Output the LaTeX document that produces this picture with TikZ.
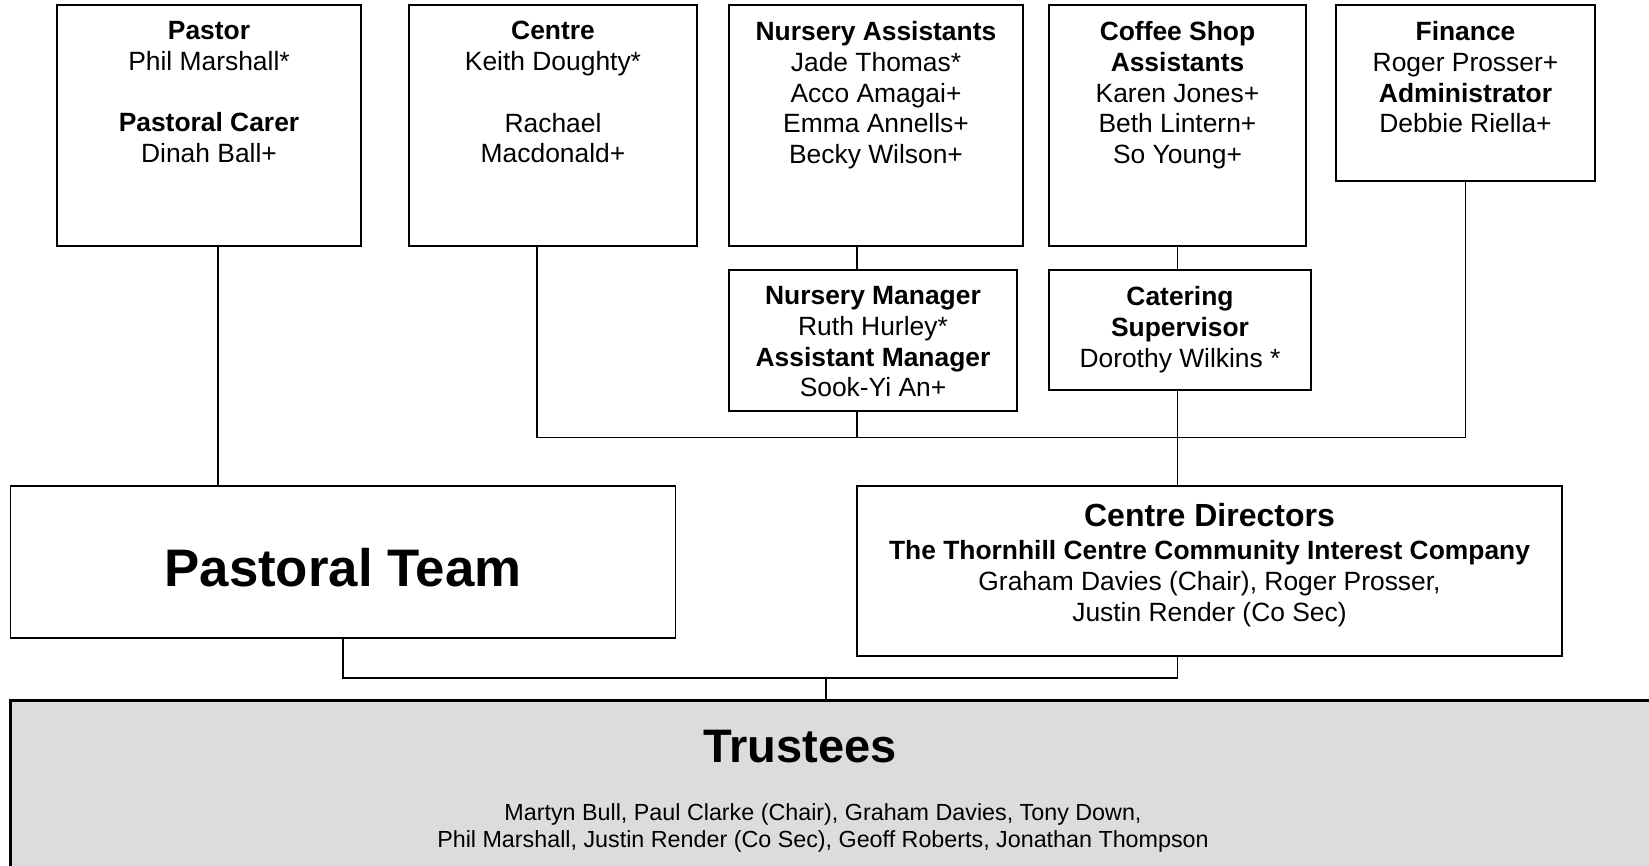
\documentclass[tikz,border=0pt]{standalone}
\usepackage{fontspec}
\setmainfont{Liberation Sans}
\definecolor{trustgray}{HTML}{DCDCDC}
\tikzset{
  unitbox/.style={draw, line width=1.8pt, inner sep=0pt},
  unittext/.style={anchor=north, align=center, inner sep=0pt,
    font=\fontsize{26.4}{30.8}\selectfont},
  link/.style={line width=1.8pt},
}
\begin{document}
\begin{tikzpicture}[x=1pt, y=-1pt]
  \path[use as bounding box, clip] (0,0) rectangle (1649,865);
  % Top row of staff boxes
  \node[unitbox, minimum width=304pt, minimum height=241pt] (pastor) at (209,125.5) {};
  \node[unitbox, minimum width=288pt, minimum height=241pt] (centre) at (553,125.5) {};
  \node[unitbox, minimum width=294pt, minimum height=241pt] (nursasst) at (876,125.5) {};
  \node[unitbox, minimum width=257pt, minimum height=241pt] (coffee) at (1177.5,125.5) {};
  \node[unitbox, minimum width=259pt, minimum height=176pt] (finance) at (1465.5,93) {};
  \node[unittext] (pastortxt) at ([yshift=-17pt]pastor.north)
    {\textbf{Pastor}\\Phil Marshall*\\[30.8pt]\textbf{Pastoral Carer}\\Dinah Ball+};
  \node[unittext] (centretxt) at ([yshift=-17pt]centre.north)
    {\textbf{Centre}\\Keith Doughty*\\[30.8pt]Rachael\\Macdonald+};
  \node[unittext] (nursassttxt) at ([yshift=-17pt]nursasst.north)
    {\textbf{Nursery Assistants}\\Jade Thomas*\\Acco Amagai+\\Emma Annells+\\Becky Wilson+};
  \node[unittext] (coffeetxt) at ([yshift=-17pt]coffee.north)
    {\textbf{Coffee Shop}\\\textbf{Assistants}\\Karen Jones+\\Beth Lintern+\\So Young+};
  \node[unittext] (financetxt) at ([yshift=-17pt]finance.north)
    {\textbf{Finance}\\Roger Prosser+\\\textbf{Administrator}\\Debbie Riella+};
  % Managers
  \node[unitbox, minimum width=288pt, minimum height=141pt] (nursmgr) at (873,340.5) {};
  \node[unitbox, minimum width=262pt, minimum height=120pt] (catering) at (1180,330) {};
  \node[unittext] (nursmgrtxt) at ([yshift=-17pt]nursmgr.north)
    {\textbf{Nursery Manager}\\Ruth Hurley*\\\textbf{Assistant Manager}\\Sook-Yi An+};
  \node[unittext] (cateringtxt) at ([yshift=-17pt]catering.north)
    {\textbf{Catering}\\\textbf{Supervisor}\\Dorothy Wilkins *};
  % Teams
  \node[unitbox, minimum width=665pt, minimum height=152pt] (pteam) at (343,562) {};
  \node[unitbox, minimum width=705pt, minimum height=170pt] (directors) at (1209.5,571) {};
  \node[inner sep=0pt, font=\fontsize{52.8}{60}\selectfont\bfseries] (pteamtxt) at (343,568) {Pastoral Team};
  \node[unittext] (directorstxt) at ([yshift=-18.5pt]directors.north)
    {{\fontsize{32}{36}\selectfont\textbf{Centre Directors}}\\[2pt]
     \textbf{The Thornhill Centre Community Interest Company}\\
     Graham Davies (Chair), Roger Prosser,\\Justin Render (Co Sec)};
  % Trustees
  \node[unitbox, line width=3pt, fill=trustgray, minimum width=1650pt, minimum height=180pt] (trustees) at (835,790) {};
  \node[inner sep=0pt, font=\fontsize{47}{54}\selectfont\bfseries] (trusteestxt) at (800,747) {Trustees};
  \node[unittext, font=\fontsize{23.3}{26.5}\selectfont] (trusteesnames) at (823,803.7)
    {Martyn Bull, Paul Clarke (Chair), Graham Davies, Tony Down,\\
     Phil Marshall, Justin Render (Co Sec), Geoff Roberts, Jonathan Thompson};
  % Connectors
  \coordinate (bus) at (0,437.5);
  \coordinate (lowbus) at (826,678);
  \draw[link] ([xshift=9pt]pastor.south) -- ([xshift=9pt]pastor.south |- pteam.north);
  \draw[link] ([xshift=-16pt]centre.south) |- (bus -| finance.south) -- (finance.south);
  \draw[link] ([xshift=-19pt]nursasst.south) -- ([xshift=-19pt]nursasst.south |- nursmgr.north);
  \draw[link] ([xshift=-16pt]nursmgr.south) -- ([xshift=-16pt]nursmgr.south |- bus);
  \draw[link] (coffee.south) -- (coffee.south |- catering.north);
  \draw[link] (coffee.south |- catering.south) -- (coffee.south |- directors.north);
  \draw[link] (coffee.south |- directors.south) |- (lowbus) -| (pteam.south);
  \draw[link] (lowbus) -- (lowbus |- trustees.north);
\end{tikzpicture}
\end{document}
